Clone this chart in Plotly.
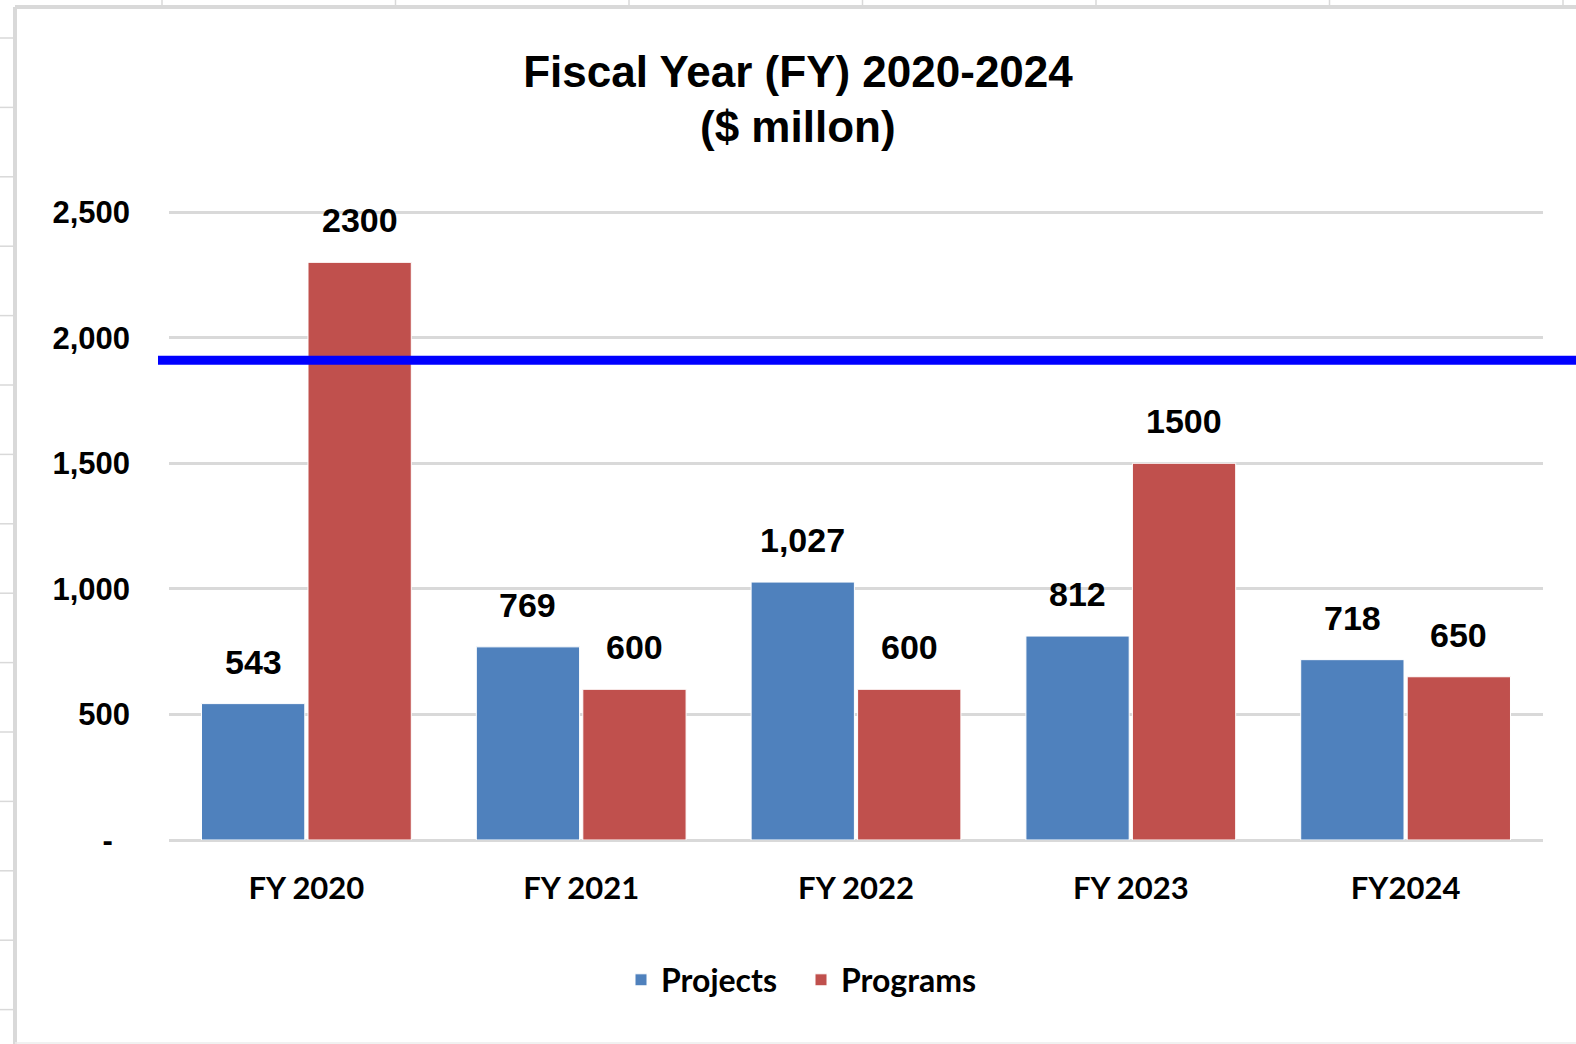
import plotly.graph_objects as go

categories = ["FY 2020", "FY 2021", "FY 2022", "FY 2023", "FY2024"]
projects = [543, 769, 1027, 812, 718]
programs = [2300, 600, 600, 1500, 650]
threshold = 1910
y_tickvals = [0, 500, 1000, 1500, 2000, 2500]
y_ticktext = ["-\u00a0\u00a0", "500", "1,000", "1,500", "2,000", "2,500"]
title_line1 = "Fiscal Year (FY) 2020-2024"
title_line2 = "($ millon)"

W, H = 1576, 1044
L, R, T, B = 169, 1543, 187, 840
YMAX = 2600
BARGAP = 0.225

def px2x(p):
    return (p - L) / (R - L)

def py2y(p):
    return (B - p) / (B - T)

SANS = "Liberation Sans, Arial, sans-serif"
CAL = "Lato, Carlito, Calibri, sans-serif"

fig = go.Figure()
fig.add_trace(go.Bar(
    name="Projects", x=categories, y=projects,
    marker=dict(color="#4F81BD", line=dict(color="white", width=1)),
))
fig.add_trace(go.Bar(
    name="Programs", x=categories, y=programs,
    marker=dict(color="#C0504D", line=dict(color="white", width=1)),
))

# data labels, placed with the axis scale and shifted to each bar of the group
cat_px = (R - L) / len(categories)
half = cat_px * (1 - BARGAP) / 4
annotations = []
for series, fmt, sign in ((projects, "{:,}", -1), (programs, "{}", 1)):
    for c, v in zip(categories, series):
        annotations.append(dict(
            x=c, y=v, xref="x", yref="y", text=fmt.format(v),
            showarrow=False, xshift=sign * half, yshift=21,
            yanchor="bottom",
            font=dict(family=SANS, size=34, color="black", weight="bold"),
        ))
annotations.append(dict(
    x=px2x(798), y=py2y(126), xref="paper", yref="paper", text=title_line2,
    showarrow=False, xanchor="center", yanchor="middle",
    font=dict(family=SANS, size=44, color="black", weight="bold"),
))

shapes = []
frame = "#d9d9d9"
shapes.append(dict(type="line", xref="paper", yref="paper",
                   x0=px2x(15), x1=px2x(1600), y0=py2y(7), y1=py2y(7),
                   line=dict(color=frame, width=4), layer="below"))
shapes.append(dict(type="line", xref="paper", yref="paper",
                   x0=px2x(15), x1=px2x(15), y0=py2y(7), y1=py2y(1050),
                   line=dict(color=frame, width=4), layer="below"))
shapes.append(dict(type="line", xref="paper", yref="paper",
                   x0=px2x(15), x1=px2x(1600), y0=py2y(1043), y1=py2y(1043),
                   line=dict(color="#ececec", width=1.5), layer="below"))
for k in range(15):
    yy = 38 + 69.4 * k
    if yy > 1044:
        break
    shapes.append(dict(type="line", xref="paper", yref="paper",
                       x0=px2x(0), x1=px2x(14), y0=py2y(yy), y1=py2y(yy),
                       line=dict(color=frame, width=1.5), layer="below"))
for k in range(7):
    xx = 162 + 233.5 * k
    shapes.append(dict(type="line", xref="paper", yref="paper",
                       x0=px2x(xx), x1=px2x(xx), y0=py2y(0), y1=py2y(7),
                       line=dict(color=frame, width=1.5), layer="below"))
shapes.append(dict(type="line", xref="paper", yref="y",
                   x0=px2x(158), x1=px2x(1600), y0=threshold, y1=threshold,
                   line=dict(color="#0000FF", width=9), layer="above"))

fig.update_layout(
    width=W, height=H,
    margin=dict(l=L, r=W - R, t=T, b=H - B),
    paper_bgcolor="white", plot_bgcolor="white",
    barmode="group", bargap=BARGAP, bargroupgap=0.03,
    title=dict(
        text=title_line1,
        x=px2x(798), xref="paper", xanchor="center",
        y=1 - 72 / H, yref="container", yanchor="middle",
        font=dict(family=SANS, size=44, color="black", weight="bold"),
    ),
    xaxis=dict(
        showgrid=False, showline=False, zeroline=False, ticks="",
        tickfont=dict(family=CAL, size=31, color="black", weight="bold"),
        ticklabelstandoff=27,
    ),
    yaxis=dict(
        range=[0, YMAX], tickvals=y_tickvals, ticktext=y_ticktext,
        showgrid=True, gridcolor="#d9d9d9", gridwidth=3,
        zeroline=True, zerolinecolor="#d9d9d9", zerolinewidth=3,
        showline=False, ticks="",
        tickfont=dict(family=SANS, size=31, color="black", weight="bold"),
        ticklabelstandoff=38,
    ),
    legend=dict(
        orientation="h", x=px2x(801), xanchor="center",
        y=py2y(980), yanchor="middle",
        font=dict(family=CAL, size=32, color="black", weight="bold"),
        itemwidth=30, tracegroupgap=0,
        entrywidth=135, entrywidthmode="pixels",
    ),
    annotations=annotations,
    shapes=shapes,
    showlegend=True,
)

fig.write_html(
    "out.html",
    config={"displayModeBar": False},
    post_script="document.body.style.margin='0';document.body.style.overflow='hidden';",
)
